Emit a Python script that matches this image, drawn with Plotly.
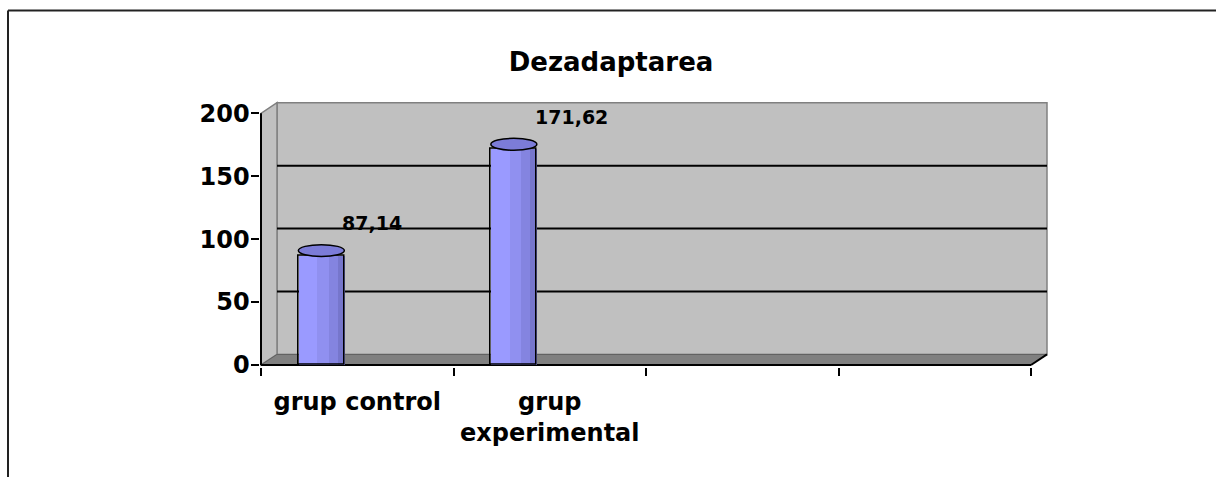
import plotly.graph_objects as go

# ---------------- data ----------------
title_text = "Dezadaptarea"
categories = ["grup control", "grup<br>experimental", "", ""]
values = [87.14, 171.62]
y_ticks = [0, 50, 100, 150, 200]
y_tick_labels = ["0", "50", "100", "150", "200"]

# ---------------- geometry / style ----------------
W, H = 1216, 477
x0px = 261.0        # pixel of x = -0.5 (front axis)
cat_px = 192.5      # pixels per category
y0px = 365.0        # pixel of value 0 (front)
unit_px = 1.2585    # pixels per value unit
dx = 16.0 / cat_px  # depth offset (category units)
dy = 8.4            # depth offset (value units)
pad_l = 1.5 / cat_px
pad_b = 1.5 / unit_px
pad_r = 3.0 / cat_px
pad_t = 3.0 / unit_px
n_cat = len(categories)
xr = [-0.5 - pad_l, n_cat - 0.5 + dx + pad_r]
yr = [-pad_b, y_ticks[-1] + dy + pad_t]
dom_x = [(x0px + (xr[0] + 0.5) * cat_px) / W, (x0px + (xr[1] + 0.5) * cat_px) / W]
dom_y = [(H - (y0px - yr[0] * unit_px)) / H, (H - (y0px - yr[1] * unit_px)) / H]

FONT = "DejaVu Sans"
bar_off = -0.306
bar_w = 0.239
xs = list(range(len(values)))

fig = go.Figure()

# cylinder shading layers (anchored on the right edge)
layers = [(1.0, "#9A9AFF"), (0.6, "#9090F0"), (0.35, "#8484E0"), (0.15, "#7676CC")]
for frac, col in layers:
    fig.add_trace(go.Bar(
        x=xs, y=values, base=0,
        offset=bar_off + bar_w * (1 - frac), width=bar_w * frac,
        marker=dict(color=col, line=dict(width=0)),
        hoverinfo="skip", showlegend=False))
# outline
fig.add_trace(go.Bar(
    x=xs, y=values, base=0, offset=bar_off, width=bar_w,
    marker=dict(color="rgba(0,0,0,0)", line=dict(color="black", width=1.5)),
    hoverinfo="skip", showlegend=False))

# boundary ticks axis dummy trace
bounds = [i - 0.5 for i in range(n_cat + 1)]
fig.add_trace(go.Scatter(x=bounds, y=[0] * len(bounds), xaxis="x2", mode="none",
                         hoverinfo="skip", showlegend=False))

shapes = []
# back wall
shapes.append(dict(type="rect", xref="x", yref="y", layer="below",
                   x0=-0.5 + dx, x1=n_cat - 0.5 + dx, y0=dy, y1=y_ticks[-1] + dy,
                   fillcolor="#C0C0C0", line=dict(color="#808080", width=1.5)))
# left side wall
shapes.append(dict(type="path", xref="x", yref="y", layer="below",
                   path=f"M {-0.5},{0} L {-0.5},{y_ticks[-1]} L {-0.5 + dx},{y_ticks[-1] + dy} L {-0.5 + dx},{dy} Z",
                   fillcolor="#C0C0C0", line=dict(color="#808080", width=1.5)))
# floor
shapes.append(dict(type="path", xref="x", yref="y", layer="below",
                   path=f"M {-0.5},{0} L {n_cat - 0.5},{0} L {n_cat - 0.5 + dx},{dy} L {-0.5 + dx},{dy} Z",
                   fillcolor="#808080", line=dict(color="#606060", width=1)))
# gridlines on back wall
for v in y_ticks[1:-1]:
    shapes.append(dict(type="line", xref="x", yref="y", layer="below",
                       x0=-0.5 + dx, x1=n_cat - 0.5 + dx, y0=v + dy, y1=v + dy,
                       line=dict(color="black", width=2)))
# front axis lines
shapes.append(dict(type="line", xref="x", yref="y", layer="below",
                   x0=-0.5, x1=-0.5, y0=0, y1=y_ticks[-1], line=dict(color="black", width=2)))
shapes.append(dict(type="line", xref="x", yref="y", layer="below",
                   x0=-0.5, x1=n_cat - 0.5, y0=0, y1=0, line=dict(color="black", width=2)))
shapes.append(dict(type="line", xref="x", yref="y", layer="below",
                   x0=n_cat - 0.5, x1=n_cat - 0.5 + dx, y0=0, y1=dy, line=dict(color="black", width=2)))
# cylinder tops
for i, v in zip(xs, values):
    shapes.append(dict(type="circle", xref="x", yref="y", layer="above",
                       x0=i + bar_off, x1=i + bar_off + bar_w, y0=v - 1.0, y1=v + 8.5,
                       fillcolor="#7C7CD8", line=dict(color="black", width=1.5)))
# chart border (top and left)
shapes.append(dict(type="line", xref="paper", yref="paper", x0=8 / W, x1=1.0,
                   y0=1 - 10.5 / H, y1=1 - 10.5 / H, line=dict(color="#222", width=2)))
shapes.append(dict(type="line", xref="paper", yref="paper", x0=8 / W, x1=8 / W,
                   y0=1 - 10.5 / H, y1=0, line=dict(color="#222", width=2)))

annotations = []
for i, v in zip(xs, values):
    annotations.append(dict(
        x=i + bar_off + bar_w, y=v, xref="x", yref="y", xanchor="left", yanchor="middle",
        xshift=-4, yshift=32, showarrow=False,
        text=f"{v:.2f}".replace(".", ","),
        font=dict(family=FONT, size=19, color="black", weight="bold")))

fig.update_layout(
    width=W, height=H, autosize=False,
    margin=dict(l=0, r=0, t=0, b=0),
    paper_bgcolor="white", plot_bgcolor="rgba(0,0,0,0)",
    barmode="overlay", bargap=0,
    title=dict(text=title_text, x=611 / W, xanchor="center", xref="paper",
               y=1 - 62 / H, yanchor="middle", yref="paper",
               font=dict(family=FONT, size=26, color="black", weight="bold")),
    xaxis=dict(range=xr, domain=dom_x, anchor="y", tickmode="array",
               tickvals=list(range(n_cat)), ticktext=categories, ticks="",
               showgrid=False, zeroline=False, showline=False, automargin=False,
               ticklabelstandoff=18,
               tickfont=dict(family=FONT, size=24, color="black", weight="bold")),
    xaxis2=dict(range=xr, domain=dom_x, anchor="y", overlaying="x", side="bottom",
                tickmode="array", tickvals=bounds, ticks="outside", ticklen=8,
                tickwidth=1.5, tickcolor="black", showticklabels=False,
                showgrid=False, zeroline=False, showline=False, automargin=False),
    yaxis=dict(range=yr, domain=dom_y, tickmode="array", tickvals=y_ticks,
               ticktext=y_tick_labels, ticks="outside", ticklen=8, tickwidth=1.5,
               tickcolor="black", showgrid=False, zeroline=False, showline=False,
               automargin=False, ticklabelstandoff=-4,
               tickfont=dict(family=FONT, size=24, color="black", weight="bold")),
    shapes=shapes, annotations=annotations,
)

fig.write_html("out.html", config={"displayModeBar": False},
               post_script="document.body.style.margin='0';document.body.style.overflow='hidden';")
